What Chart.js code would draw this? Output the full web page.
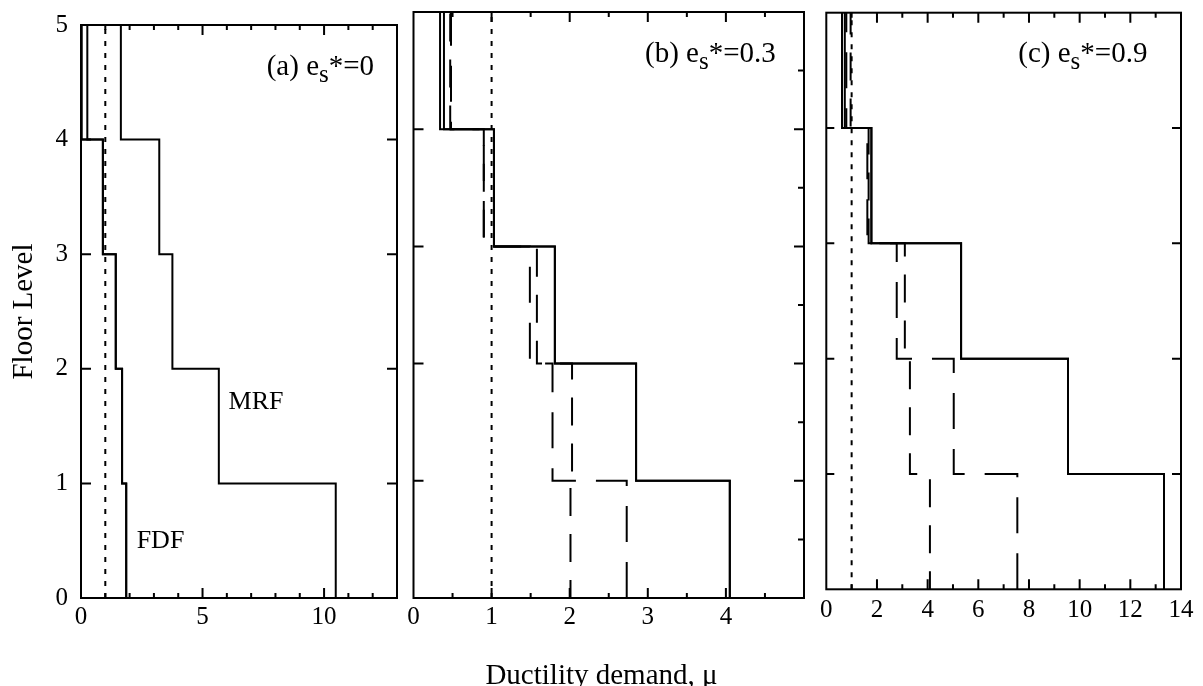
<!DOCTYPE html>
<html>
<head>
<meta charset="utf-8">
<script src="https://cdn.jsdelivr.net/npm/chart.js@4.4.1/dist/chart.umd.min.js"></script>
<style>
html,body{margin:0;padding:0;background:#fff;width:1203px;height:686px;overflow:hidden;}
.pane{position:absolute;}
#xtitle{position:absolute;left:0;width:1203px;text-align:center;top:660px;font-family:"Liberation Serif",serif;font-size:29px;line-height:29px;color:#000;white-space:nowrap;}
</style>
</head>
<body>
<div class="pane" style="left:0px;top:-3px;width:406px;height:689px"><canvas id="ca" width="406" height="689"></canvas></div>
<div class="pane" style="left:390px;top:0px;width:426px;height:686px"><canvas id="cb" width="426" height="686"></canvas></div>
<div class="pane" style="left:800px;top:0px;width:403px;height:686px"><canvas id="cc" width="403" height="686"></canvas></div>
<div id="xtitle">Ductility demand, μ</div>
<script>
// ---------------- data ----------------
// floor levels (story i spans floors[i] .. floors[i+1])
const floors = [0, 1, 2, 3, 4, 5];
// story ductility values, listed from 1st story (bottom) to 5th story (top)
// panel (a) e_s* = 0
const aMRF  = [10.48, 5.67, 3.76, 3.22, 1.64];
const aFDF  = [1.86, 1.69, 1.43, 0.90, 0.26];
const aFDF2 = [1.86, 1.69, 1.43, 0.90, 0.03];
// panel (b) e_s* = 0.3
const bS1 = [4.05, 2.85, 1.81, 1.03, 0.34];
const bS2 = [4.05, 2.85, 1.81, 1.03, 0.39];
const bD1 = [2.73, 1.78, 1.49, 0.90, 0.48];
const bD2 = [2.01, 2.03, 1.58, 0.90, 0.47];
// panel (c) e_s* = 0.9
const cS1 = [13.33, 9.54, 5.32, 1.78, 0.62];
const cS2 = [13.33, 9.54, 5.32, 1.78, 0.73];
const cD1 = [7.54, 5.03, 2.78, 1.62, 0.79];
const cD2 = [4.09, 3.30, 3.10, 1.67, 0.96];
// yield reference (mu = 1)
const muYield = [1, 1];
// tick labels
const yTickLabels = [0, 1, 2, 3, 4, 5];
const aXTicks = [0, 5, 10];
const bXTicks = [0, 1, 2, 3, 4];
const cXTicks = [0, 2, 4, 6, 8, 10, 12, 14];
// text
const panelTexts = [["(a) e", "s", "*=0"], ["(b) e", "s", "*=0.3"], ["(c) e", "s", "*=0.9"]];
const curveLabels = ["MRF", "FDF"];

// ---------------- helpers ----------------
const FONT = '"Liberation Serif", "Times New Roman", serif';
function profile(values) {
  const pts = [];
  values.forEach((v, i) => { pts.push({x: v, y: floors[i]}); pts.push({x: v, y: floors[i + 1]}); });
  return pts;
}
function yieldPts() { return [{x: muYield[0], y: floors[0]}, {x: muYield[1], y: floors[floors.length - 1]}]; }
function ds(values, dash, dashOffset) {
  return {data: profile(values), showLine: true, borderColor: '#000', borderWidth: 2, pointRadius: 0,
          borderDash: dash || [], borderDashOffset: dashOffset || 0, fill: false, tension: 0,
          borderJoinStyle: 'miter', borderCapStyle: 'butt'};
}
function dotted() {
  return {data: yieldPts(), showLine: true, borderColor: '#000', borderWidth: 2, pointRadius: 0,
          borderDash: [5, 7], fill: false, borderCapStyle: 'butt'};
}

const frame = {
  id: 'frame',
  afterDatasetsDraw(chart, args, o) {
    const {ctx, chartArea: {left, top, right, bottom}, scales: {x, y}} = chart;
    ctx.save();
    ctx.strokeStyle = '#000'; ctx.lineWidth = 2; ctx.setLineDash([]);
    ctx.strokeRect(left, top, right - left, bottom - top);
    ctx.beginPath();
    const xmin = x.min, xmax = x.max;
    const n = Math.round((xmax - xmin) / o.xMinor);
    for (let k = 1; k < n; k++) {
      const v = xmin + k * o.xMinor;
      const px = x.getPixelForValue(v);
      const maj = Math.abs(v / o.xMajor - Math.round(v / o.xMajor)) < 1e-6;
      const len = maj ? 10 : 5;
      ctx.moveTo(px, bottom); ctx.lineTo(px, bottom - len);
      ctx.moveTo(px, top); ctx.lineTo(px, top + len);
    }
    const ny = Math.round((y.max - y.min) / 0.5);
    for (let k = 1; k < ny; k++) {
      const v = y.min + k * 0.5;
      const py = y.getPixelForValue(v);
      const maj = Math.abs(v - Math.round(v)) < 1e-6;
      if (maj) {
        ctx.moveTo(left, py); ctx.lineTo(left + o.yLeftLen, py);
        ctx.moveTo(right, py); ctx.lineTo(right - o.yRightLen, py);
      } else if (o.yRightMinor) {
        ctx.moveTo(right, py); ctx.lineTo(right - 6, py);
      }
    }
    ctx.stroke();
    ctx.restore();
  },
  afterDraw(chart, args, o) {
    const {ctx, chartArea: {left, top}, scales: {x, y}} = chart;
    ctx.save();
    ctx.fillStyle = '#000';
    ctx.textBaseline = 'alphabetic';
    ctx.textAlign = 'left';
    if (o.panel) {
      let px = left + o.panel.dx;
      const base = top + o.panel.dy;
      ctx.font = '29px ' + FONT;
      ctx.fillText(o.panel.t[0], px, base); px += ctx.measureText(o.panel.t[0]).width;
      ctx.font = '25px ' + FONT;
      ctx.fillText(o.panel.t[1], px, base + 7); px += ctx.measureText(o.panel.t[1]).width;
      ctx.font = '29px ' + FONT;
      ctx.fillText(o.panel.t[2], px, base);
    }
    (o.labels || []).forEach(l => {
      ctx.font = '26px ' + FONT;
      ctx.fillText(l.text, x.getPixelForValue(l.x), y.getPixelForValue(l.y));
    });
    ctx.restore();
  }
};

function makeChart(id, cfg) {
  const tickFont = {family: FONT, size: 25};
  return new Chart(document.getElementById(id), {
    type: 'scatter',
    data: {datasets: cfg.datasets},
    options: {
      responsive: false, animation: false, events: [],
      layout: {padding: cfg.padding},
      plugins: {legend: {display: false}, tooltip: {enabled: false}, frame: cfg.frame},
      scales: {
        x: {type: 'linear', min: 0, max: cfg.xMax,
            afterBuildTicks: s => { s.ticks = cfg.xTicks.map(v => ({value: v})); },
            afterFit: s => { s.height = cfg.xHeight; },
            ticks: {font: tickFont, color: '#000', padding: cfg.xPad, maxRotation: 0, autoSkip: false},
            grid: {display: false, drawTicks: false}, border: {display: false}},
        y: {type: 'linear', min: 0, max: 5,
            afterBuildTicks: s => { s.ticks = yTickLabels.map(v => ({value: v})); },
            afterFit: s => { s.width = cfg.yWidth; },
            ticks: {display: cfg.yLabels, font: tickFont, color: '#000', padding: 13},
            title: cfg.yTitle || {display: false},
            grid: {display: false, drawTicks: false}, border: {display: false}}
      }
    },
    plugins: [frame]
  });
}

// panel (a)
makeChart('ca', {
  datasets: [dotted(), ds(aFDF2), ds(aFDF), ds(aMRF)],
  padding: {top: 15, right: 9, left: 0, bottom: 0},
  xMax: 13, xTicks: aXTicks, xHeight: 88, xPad: 4,
  yWidth: 81, yLabels: true,
  yTitle: {display: true, text: 'Floor Level', color: '#000', font: {family: FONT, size: 29}, padding: {top: 7, bottom: 0}},
  frame: {xMinor: 1, xMajor: 5, yLeftLen: 10, yRightLen: 10, yRightMinor: false,
          panel: {t: panelTexts[0], dx: 185.7, dy: 50},
          labels: [{text: curveLabels[0], x: 6.07, y: 1.65}, {text: curveLabels[1], x: 2.29, y: 0.44}]}
});
// panel (b)
makeChart('cb', {
  datasets: [dotted(), ds(bD2, [28, 18], 10), ds(bD1, [36, 20]), ds(bS2), ds(bS1)],
  padding: {top: 12, right: 12, left: 0, bottom: 0},
  xMax: 5, xTicks: bXTicks, xHeight: 88, xPad: 4,
  yWidth: 23.5, yLabels: false,
  frame: {xMinor: 0.5, xMajor: 1, yLeftLen: 10, yRightLen: 10, yRightMinor: true,
          panel: {t: panelTexts[1], dx: 231.5, dy: 50}}
});
// panel (c)
makeChart('cc', {
  datasets: [dotted(), ds(cD2, [28, 18], 10), ds(cD1, [36, 20]), ds(cS2), ds(cS1)],
  padding: {top: 12.7, right: 22, left: 0, bottom: 0},
  xMax: 14, xTicks: cXTicks, xHeight: 96.7, xPad: 6,
  yWidth: 26.3, yLabels: false,
  frame: {xMinor: 1, xMajor: 2, yLeftLen: 8, yRightLen: 9, yRightMinor: false,
          panel: {t: panelTexts[2], dx: 192, dy: 49.3}}
});
</script>
</body>
</html>
